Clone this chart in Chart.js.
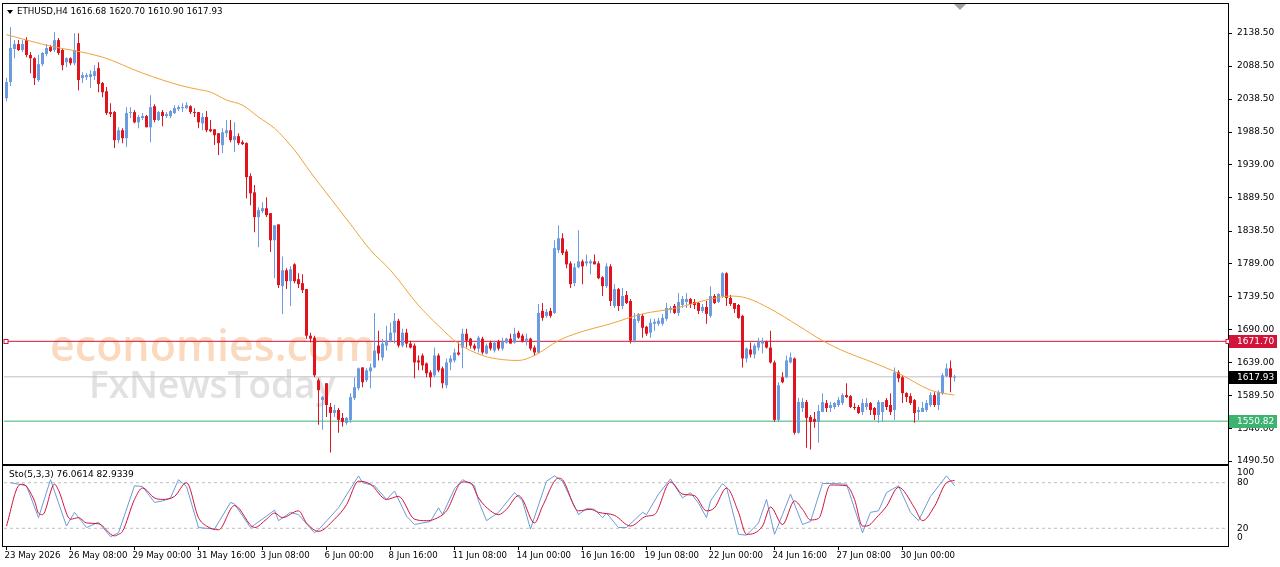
<!DOCTYPE html>
<html><head><meta charset="utf-8">
<script src="https://cdn.jsdelivr.net/npm/chart.js@4.4.1/dist/chart.umd.min.js"></script>
<style>
html,body{margin:0;padding:0;background:#fff;overflow:hidden;}
#wrap{position:relative;width:1280px;height:567px;background:#fff;}
#main{position:absolute;left:0;top:0;}
#sub{position:absolute;left:0;top:465px;}
</style></head><body>
<div id="wrap"><canvas id="main" width="1280" height="465"></canvas><canvas id="sub" width="1280" height="102"></canvas></div>
<script>
const opens = [2039.75,2064.25,2114.25,2121.75,2112.75,2127.75,2105.25,2100.25,2067.25,2091.25,2106.75,2117.25,2112.75,2127.75,2112.75,2094.25,2100.25,2092.75,2123.25,2070.25,2071.75,2071.75,2073.25,2085.25,2062.75,2050.25,2018.75,2018.75,1976.25,1991.25,1979.25,2017.25,2018.75,2003.25,2009.75,2012.75,1995.75,2027.75,2006.75,2018.75,2012.75,2012.75,2017.25,2023.25,2024.75,2024.75,2027.75,2018.75,2018.75,2001.75,2011.25,1992.75,1992.75,1986.75,1968.75,1986.75,1991.25,1976.25,1982.25,1973.25,1971.75,1921.75,1897.25,1859.75,1868.75,1873.25,1865.75,1824.75,1848.75,1755.25,1779.25,1762.75,1788.25,1765.75,1759.75,1750.75,1680.25,1677.25,1612.75,1582.75,1608.25,1572.25,1563.25,1567.75,1555.75,1548.25,1552.75,1585.75,1600.75,1632.25,1612.75,1626.25,1632.25,1665.25,1647.25,1665.25,1672.75,1684.75,1702.75,1665.25,1684.75,1668.25,1665.25,1642.75,1650.25,1638.25,1624.75,1620.25,1650.25,1630.75,1605.25,1639.75,1642.75,1654.75,1662.25,1683.25,1675.75,1665.25,1660.75,1675.75,1653.25,1669.75,1657.75,1671.25,1660.75,1669.75,1675.75,1669.75,1684.75,1680.25,1672.75,1675.75,1662.25,1654.75,1717.75,1710.25,1717.75,1714.75,1809.75,1827.75,1807.75,1789.75,1759.75,1783.75,1792.75,1789.75,1789.75,1792.75,1789.75,1768.75,1755.25,1785.25,1725.25,1750.75,1725.25,1741.75,1732.75,1672.75,1702.75,1710.25,1693.75,1684.75,1698.25,1698.25,1698.25,1705.75,1719.25,1725.25,1714.75,1726.75,1731.25,1735.75,1731.25,1729.75,1717.75,1723.75,1710.25,1740.25,1731.25,1740.25,1774.75,1737.25,1729.75,1726.75,1710.25,1645.75,1659.25,1651.75,1662.25,1668.25,1671.25,1662.25,1639.75,1552.75,1617.25,1617.25,1639.75,1645.75,1533.25,1570.75,1579.75,1557.25,1554.25,1549.75,1564.75,1578.25,1570.75,1572.25,1575.25,1578.25,1590.25,1588.75,1572.25,1572.25,1564.75,1572.25,1578.25,1570.75,1560.25,1564.75,1582.75,1575.25,1567.75,1624.75,1617.25,1593.25,1588.75,1582.75,1564.75,1564.75,1567.75,1575.25,1590.25,1575.25,1593.25,1618.75,1630.75,1616.68];
const highs = [2070.25,2147.25,2127.75,2127.75,2127.75,2132.25,2109.75,2101.75,2105.25,2109.75,2121.75,2120.25,2139.75,2130.75,2114.25,2101.75,2101.75,2138.25,2138.25,2079.25,2077.75,2082.25,2089.75,2094.25,2064.25,2056.75,2032.25,2020.25,1995.75,1994.25,2026.25,2026.25,2021.75,2014.25,2017.25,2014.25,2044.25,2030.75,2020.25,2021.75,2018.75,2021.75,2029.25,2029.25,2032.25,2033.75,2029.25,2024.75,2018.75,2017.25,2020.25,2006.75,1992.75,1986.75,1994.25,2006.75,2006.75,2003.25,1986.75,1976.25,1973.25,1926.25,1908.25,1874.75,1882.25,1889.75,1865.75,1847.25,1848.75,1800.25,1782.25,1785.25,1789.75,1774.75,1773.25,1750.75,1684.75,1680.25,1615.75,1588.75,1608.25,1578.25,1575.25,1570.75,1563.25,1557.25,1593.25,1617.25,1632.25,1632.25,1630.75,1638.25,1714.75,1687.75,1675.75,1695.25,1699.75,1714.75,1705.75,1690.75,1690.75,1672.75,1668.25,1650.25,1653.25,1639.75,1627.75,1662.25,1653.25,1633.75,1645.75,1650.25,1660.75,1669.75,1690.75,1690.75,1677.25,1668.25,1680.25,1678.75,1668.25,1672.75,1672.75,1674.25,1677.25,1677.25,1683.25,1692.25,1687.75,1683.25,1683.25,1677.25,1665.25,1728.25,1729.75,1720.75,1722.25,1824.75,1847.25,1835.25,1810.75,1792.75,1789.75,1839.75,1795.75,1803.25,1795.75,1803.25,1792.75,1770.25,1789.75,1788.25,1758.25,1752.25,1752.25,1747.75,1735.75,1714.75,1714.75,1713.25,1695.25,1705.75,1705.75,1707.25,1713.25,1729.75,1725.25,1728.25,1744.75,1740.25,1744.75,1737.25,1735.75,1731.25,1728.25,1732.75,1755.25,1743.25,1744.75,1776.25,1776.25,1741.75,1729.75,1728.25,1711.75,1662.25,1669.75,1668.25,1677.25,1677.25,1672.75,1687.75,1642.75,1609.75,1624.75,1650.25,1654.75,1647.25,1585.75,1585.75,1582.75,1560.25,1564.75,1575.25,1593.25,1582.75,1579.75,1579.75,1587.25,1593.25,1608.25,1590.25,1578.25,1575.25,1584.25,1585.75,1579.75,1572.25,1582.75,1579.75,1585.75,1593.25,1632.25,1627.75,1620.25,1594.75,1593.25,1584.25,1572.25,1579.75,1582.75,1594.75,1594.75,1597.75,1623.25,1638.25,1642.75,1620.70];
const lows = [2035.25,2058.25,2100.25,2111.25,2109.75,2101.75,2077.75,2059.75,2064.25,2088.25,2103.25,2109.75,2109.75,2105.25,2082.25,2086.75,2089.75,2089.75,2051.75,2062.75,2067.25,2055.25,2067.25,2048.75,2041.25,2014.25,2011.25,1964.25,1971.75,1971.75,1965.75,2009.75,2001.75,1994.25,2006.75,1995.75,1973.25,2003.25,2005.25,1997.25,2009.75,2009.75,2015.75,2020.25,2018.75,2023.25,2015.75,2011.25,1994.25,1991.25,1988.25,1988.25,1968.75,1953.75,1956.75,1980.75,1973.25,1958.25,1968.75,1968.75,1888.25,1877.75,1836.75,1814.25,1865.75,1859.75,1806.75,1767.25,1752.25,1713.25,1750.75,1725.25,1759.75,1752.25,1744.75,1675.75,1669.75,1617.25,1545.25,1537.75,1557.25,1503.25,1557.25,1533.25,1542.25,1545.25,1548.25,1582.75,1597.75,1602.25,1609.75,1600.75,1630.75,1642.75,1642.75,1657.75,1669.75,1668.25,1662.25,1662.25,1662.25,1660.75,1615.75,1627.75,1627.75,1617.25,1602.25,1617.25,1624.75,1600.75,1600.75,1627.75,1639.75,1650.25,1630.75,1662.25,1660.75,1657.75,1654.75,1651.75,1651.75,1657.75,1654.75,1657.75,1657.75,1668.25,1668.25,1668.25,1675.75,1669.75,1665.25,1657.75,1650.25,1653.25,1702.75,1707.25,1707.25,1713.25,1805.25,1802.25,1782.25,1752.25,1755.25,1782.25,1758.25,1785.25,1773.25,1788.25,1765.75,1740.25,1752.25,1725.25,1722.25,1717.75,1720.75,1728.25,1668.25,1669.75,1699.75,1677.25,1680.25,1677.25,1687.75,1695.25,1695.25,1702.75,1714.75,1713.25,1710.25,1722.25,1722.25,1722.25,1720.75,1713.25,1714.75,1698.25,1707.25,1728.25,1729.75,1737.25,1725.25,1725.25,1714.75,1705.75,1632.25,1639.75,1647.25,1645.75,1657.75,1653.25,1660.75,1638.25,1549.75,1549.75,1608.25,1615.75,1638.25,1530.25,1531.75,1564.75,1510.75,1507.75,1540.75,1518.25,1564.75,1564.75,1564.75,1569.25,1572.25,1575.25,1585.75,1570.75,1567.75,1561.75,1560.25,1567.75,1560.25,1552.75,1548.25,1549.75,1567.75,1560.25,1552.75,1609.75,1578.25,1579.75,1575.25,1548.25,1552.75,1564.75,1564.75,1572.25,1572.25,1567.75,1590.25,1617.25,1594.75,1610.90];
const closes = [2064.25,2115.75,2121.75,2112.75,2121.75,2105.25,2100.25,2070.25,2091.25,2108.25,2115.75,2111.25,2127.75,2108.25,2089.75,2100.25,2092.75,2112.75,2067.25,2074.75,2074.75,2076.25,2080.75,2061.25,2048.75,2017.25,2015.75,1976.25,1991.25,1979.25,2017.25,2018.75,2003.25,2011.25,2012.75,1995.75,2026.25,2006.75,2018.75,2012.75,2015.75,2020.25,2024.75,2026.25,2026.25,2029.25,2018.75,2017.25,2003.25,2011.25,1991.25,1989.75,1983.75,1971.75,1988.25,1991.25,1976.25,1982.25,1971.75,1970.25,1920.25,1895.75,1859.75,1870.25,1873.25,1862.75,1824.75,1847.25,1756.75,1779.25,1762.75,1780.75,1762.75,1758.25,1749.25,1680.25,1675.75,1620.25,1597.75,1587.25,1575.25,1563.25,1567.75,1552.75,1549.75,1555.75,1587.25,1602.25,1630.75,1609.75,1627.75,1632.25,1657.75,1653.25,1668.25,1672.75,1684.75,1702.75,1665.25,1684.75,1668.25,1662.25,1639.75,1639.75,1635.25,1623.25,1617.25,1650.25,1627.75,1608.25,1639.75,1645.75,1654.75,1651.75,1683.25,1672.75,1665.25,1660.75,1677.25,1654.75,1665.25,1660.75,1669.75,1660.75,1671.25,1675.75,1668.25,1683.25,1677.25,1671.25,1675.75,1660.75,1654.75,1714.75,1707.25,1716.25,1710.25,1812.75,1827.75,1805.25,1788.25,1758.25,1783.75,1792.75,1785.25,1792.75,1792.75,1788.25,1767.25,1755.25,1785.25,1732.75,1750.75,1725.25,1740.25,1729.75,1672.75,1705.75,1713.25,1692.25,1683.25,1699.75,1701.25,1702.75,1707.25,1722.25,1722.25,1714.75,1731.25,1735.75,1735.75,1728.25,1726.75,1717.75,1723.75,1713.25,1740.25,1729.75,1743.25,1774.75,1737.25,1728.25,1720.75,1707.25,1645.75,1660.75,1651.75,1665.25,1671.25,1671.25,1662.25,1639.75,1552.75,1605.25,1609.75,1642.75,1647.25,1533.25,1579.75,1579.75,1555.75,1549.75,1549.75,1566.25,1579.75,1570.75,1575.25,1578.25,1582.75,1590.25,1587.25,1572.25,1570.75,1563.25,1578.25,1578.25,1567.75,1560.25,1579.75,1579.75,1572.25,1564.75,1624.75,1615.75,1593.25,1587.25,1578.25,1563.25,1567.75,1570.75,1578.25,1590.25,1575.25,1594.75,1620.25,1630.75,1617.25,1617.93];

// moving average, read at sampled bars
const maBars = [0,10,24,34,44,48,51,55,59,63,67,72,76,81,86,91,96,103,108,113,119,124,128,132,138,143,151,159,167,176,181,185,191,198,204,210,215,223,231,234,237];
const maVals = [2136,2120,2102,2077.75,2058.25,2053,2049,2037,2029.25,2011.25,1994.25,1961.25,1927.75,1888.25,1849,1809.75,1779.25,1726.25,1695.25,1668.25,1650.25,1644,1642.75,1650.25,1672.75,1684.75,1698.25,1713.25,1721.5,1735.75,1740.25,1737.25,1720.75,1695.25,1672.75,1655,1643.5,1623.25,1597.75,1593.25,1590.25];

// stochastic %K (main) and %D (signal)
const kBars = [1,5,8,11,15,17,20,23,26,28,32,34,37,39,41,43,45,48,52,56,57,61,65,67,68,71,73,77,78,83,88,89,92,95,97,100,102,106,108,109,112,114,117,118,120,123,127,129,131,135,137,139,143,145,147,149,150,153,155,159,160,163,166,169,171,173,175,176,179,180,183,185,188,190,192,194,196,199,201,204,207,210,214,216,218,220,223,226,228,231,235,237];
const kVals = [80,76,34,84,23,41,21,28,9,14,76,75,54,56,60,84,75,21,19,54,52,21,36,44,30,41,38,14,18,47,89,80,76,58,69,36,25,29,47,38,72,84,76,56,30,41,67,56,19,82,89,82,38,46,45,34,40,21,21,41,38,65,85,60,67,53,34,56,79,74,12,11,27,58,12,38,65,25,29,79,79,78,14,41,43,67,76,41,30,62,89,76.06];
const dBars = [0,3,4,7,8,9,12,13,16,18,20,23,27,28,29,32,34,37,39,42,45,48,50,53,57,62,65,67,69,73,75,78,82,85,88,91,95,98,102,105,107,110,114,116,118,121,123,125,128,129,132,134,138,139,143,146,148,152,156,160,162,166,169,172,175,177,180,183,185,189,191,194,197,199,201,203,206,210,212,214,215,218,220,223,227,229,232,235,237];
const dVals = [23,76,78,56,40,38,78,70,32,34,27,26,10,12,16,58,73,60,58,62,80,34,23,18,50,21,32,40,34,43,27,16,32,51,82,78,58,62,32,30,32,43,81,80,60,43,38,45,63,58,27,49,86,84,43,45,41,37,23,36,38,81,65,63,43,47,73,41,12,23,48,25,56,45,31,33,77,76,58,23,23,37,49,74,47,30,49,80,82.93];

const priceTicks = [2138.5,2088.5,2038.5,1988.5,1939.0,1889.5,1838.5,1789.0,1739.5,1690.0,1639.0,1589.5,1540.0,1490.5];
const timeTickBars = [0,16,32,48,64,80,96,112,128,144,160,176,192,208,224];
const timeTickLabels = ['23 May 2026','26 May 08:00','29 May 00:00','31 May 16:00','3 Jun 08:00','6 Jun 00:00','8 Jun 16:00','11 Jun 08:00','14 Jun 00:00','16 Jun 16:00','19 Jun 08:00','22 Jun 00:00','24 Jun 16:00','27 Jun 08:00','30 Jun 00:00'];
const levelVals = [1671.70, 1617.93, 1550.82];
const levelColors = ['#D2143A', '#C0C0C0', '#3CB371'];
const levelBoxColors = ['#D2143A', '#000000', '#3CB371'];
const stochTicks = [100, 80, 20, 0];
const stochLevels = [80, 20];
const headerText = 'ETHUSD,H4 1616.68 1620.70 1610.90 1617.93';
const stochText = 'Sto(5,3,3) 76.0614 82.9339';

const UP = '#6B9BE0', DN = '#E0141E';
const XMIN = -0.625, XMAX = 305.375;
const YMIN = 1485.96, YMAX = 2182.41;
const FONT = 'DejaVu Sans';
const candleCol = opens.map((o, i) => closes[i] >= o ? UP : DN);

const mainDecor = {
  id: 'mainDecor',
  beforeDatasetsDraw(chart) {
    const ctx = chart.ctx;
    ctx.save();
    ctx.textBaseline = 'alphabetic';
    ctx.font = '600 43px "Open Sans"';
    ctx.fillStyle = 'rgba(245,170,110,0.45)';
    ctx.fillText('economies.com', 50, 361);
    ctx.font = '600 37px "Open Sans"';
    ctx.fillStyle = 'rgba(170,170,170,0.35)';
    ctx.fillText('FxNewsToday', 89, 398);
    ctx.restore();
  },
  afterDraw(chart) {
    const ctx = chart.ctx, ca = chart.chartArea, ys = chart.scales.y;
    ctx.save();
    ctx.strokeStyle = '#000'; ctx.lineWidth = 1;
    ctx.strokeRect(2.5, 3.5, ca.right - 2, ca.bottom - 3);
    // header
    ctx.fillStyle = '#000';
    ctx.beginPath(); ctx.moveTo(7, 10); ctx.lineTo(13, 10); ctx.lineTo(10, 14); ctx.closePath(); ctx.fill();
    ctx.font = '8.7px "' + FONT + '"'; ctx.textBaseline = 'middle'; ctx.textAlign = 'left';
    ctx.fillText(headerText, 17, 12);
    // shift marker
    ctx.fillStyle = '#A0A0A0';
    ctx.beginPath(); ctx.moveTo(954, 4); ctx.lineTo(966, 4); ctx.lineTo(960, 10); ctx.closePath(); ctx.fill();
    // handles on red line
    const yr = Math.round(ys.getPixelForValue(levelVals[0])) + 0.5;
    ctx.strokeStyle = levelColors[0]; ctx.fillStyle = '#fff';
    [6, 1228].forEach(x => { ctx.fillRect(x - 2, yr - 2, 4, 4); ctx.strokeRect(x - 2, yr - 2, 4, 4); });
    // level price boxes
    levelVals.forEach((v, k) => {
      const y = ys.getPixelForValue(v);
      ctx.fillStyle = levelBoxColors[k];
      ctx.fillRect(ca.right + 1, Math.round(y) - 6, 48, 13);
      ctx.fillStyle = '#fff';
      ctx.font = '9px "' + FONT + '"'; ctx.textBaseline = 'middle';
      ctx.fillText(v.toFixed(2), ca.right + 9, Math.round(y) + 1);
    });
    ctx.restore();
  }
};

const mainChart = new Chart(document.getElementById('main'), {
  type: 'bar',
  data: {
    datasets: [
      { type: 'line', data: [{x: XMIN, y: levelVals[0]}, {x: XMAX, y: levelVals[0]}], borderColor: levelColors[0], borderWidth: 1, pointRadius: 0, order: 6 },
      { type: 'line', data: [{x: XMIN, y: levelVals[1]}, {x: XMAX, y: levelVals[1]}], borderColor: levelColors[1], borderWidth: 1, pointRadius: 0, order: 7 },
      { type: 'line', data: [{x: XMIN, y: levelVals[2]}, {x: XMAX, y: levelVals[2]}], borderColor: levelColors[2], borderWidth: 1, pointRadius: 0, order: 8 },
      { data: opens.map((o, i) => ({x: i, y: [lows[i], highs[i]]})), backgroundColor: candleCol, barThickness: 1, grouped: false, inflateAmount: 0, borderWidth: 0, order: 4 },
      { data: opens.map((o, i) => ({x: i, y: [o, closes[i]]})), backgroundColor: candleCol, barThickness: 3, minBarLength: 1, grouped: false, inflateAmount: 0, borderWidth: 0, order: 3 },
      { type: 'line', data: maBars.map((b, k) => ({x: b, y: maVals[k]})), borderColor: '#F0A13A', borderWidth: 1, pointRadius: 0, cubicInterpolationMode: 'monotone', order: 1 }
    ]
  },
  options: {
    responsive: false, animation: false, events: [],
    layout: { autoPadding: false, padding: { left: 4, right: 0, top: 4, bottom: 1 } },
    plugins: { legend: { display: false }, tooltip: { enabled: false } },
    scales: {
      x: { type: 'linear', min: XMIN, max: XMAX, offset: false, display: false, grid: { offset: false } },
      y: {
        position: 'right', min: YMIN, max: YMAX,
        afterFit(s) { s.width = 52; s.paddingTop = 0; s.paddingBottom = 0; },
        afterBuildTicks(s) { s.ticks = priceTicks.map(v => ({ value: v })); },
        ticks: { callback: v => Number(v).toFixed(2), color: '#000', font: { family: FONT, size: 9 }, padding: 5 },
        grid: { drawOnChartArea: false, tickLength: 4, color: '#000' },
        border: { display: false }
      }
    }
  },
  plugins: [mainDecor]
});

const subDecor = {
  id: 'subDecor',
  afterDraw(chart) {
    const ctx = chart.ctx, ca = chart.chartArea, ys = chart.scales.y;
    ctx.save();
    ctx.strokeStyle = '#000'; ctx.lineWidth = 1;
    ctx.strokeRect(2.5, ca.top - 0.5, ca.right - 2, ca.bottom - ca.top + 1);
    ctx.fillStyle = '#000'; ctx.font = '9px "' + FONT + '"'; ctx.textBaseline = 'middle'; ctx.textAlign = 'left';
    ctx.fillText(stochText, 9, ca.top + 9);
    stochTicks.forEach(v => {
      const y = ys.getPixelForValue(v);
      ctx.fillText(String(v), ca.right + 9, Math.min(Math.max(y, ca.top + 7), ca.bottom - 8));
    });
    ctx.restore();
  }
};

const subChart = new Chart(document.getElementById('sub'), {
  type: 'line',
  data: {
    datasets: [
      { data: dBars.map((b, k) => ({x: b, y: dVals[k]})), borderColor: '#D0103A', borderWidth: 1, pointRadius: 0, cubicInterpolationMode: 'monotone', order: 1 },
      { data: kBars.map((b, k) => ({x: b, y: kVals[k]})), borderColor: '#6E9BD6', borderWidth: 1, pointRadius: 0, order: 2 },
      { data: [{x: XMIN, y: stochLevels[0]}, {x: XMAX, y: stochLevels[0]}], borderColor: '#BDBDBD', borderDash: [3, 3], borderWidth: 1, pointRadius: 0, order: 3 },
      { data: [{x: XMIN, y: stochLevels[1]}, {x: XMAX, y: stochLevels[1]}], borderColor: '#BDBDBD', borderDash: [3, 3], borderWidth: 1, pointRadius: 0, order: 4 }
    ]
  },
  options: {
    responsive: false, animation: false, events: [],
    layout: { autoPadding: false, padding: { left: 4, right: 0, top: 1, bottom: 0 } },
    plugins: { legend: { display: false }, tooltip: { enabled: false } },
    scales: {
      x: {
        type: 'linear', min: XMIN, max: XMAX, offset: false,
        afterBuildTicks(s) { s.ticks = timeTickBars.map(v => ({ value: v })); },
        afterFit(s) { s.height = 21; s.paddingLeft = 0; s.paddingRight = 0; },
        ticks: { autoSkip: false, maxRotation: 0, align: 'start', labelOffset: -2, padding: 1, callback: (v, i) => timeTickLabels[i], color: '#000', font: { family: FONT, size: 8.6 } },
        grid: { drawOnChartArea: false, tickLength: 4, color: '#000' },
        border: { display: false }
      },
      y: {
        position: 'right', min: -3.3, max: 102,
        afterFit(s) { s.width = 52; s.paddingTop = 0; s.paddingBottom = 0; },
        ticks: { display: false }, grid: { display: false }, border: { display: false }
      }
    }
  },
  plugins: [subDecor]
});
</script>
</body></html>
